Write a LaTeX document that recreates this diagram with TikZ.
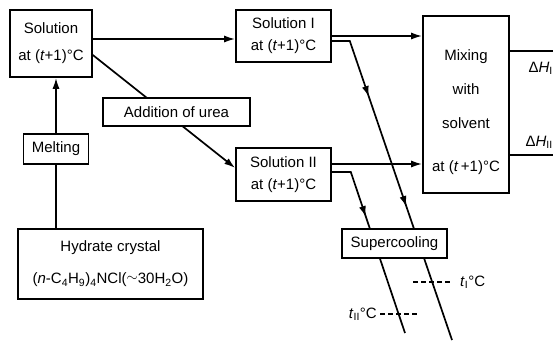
\documentclass[tikz,border=0pt]{standalone}
\usepackage{fontspec}
\setmainfont{Liberation Sans}
\usetikzlibrary{positioning, arrows.meta, decorations.markings}
\newcommand{\attemp}{at (\textit{t}+1)°C}

\begin{document}
\begin{tikzpicture}[
    x=1pt, y=-1pt,
    box/.style={
      draw, line width=1.6pt, fill=white, align=center,
      inner sep=0pt, font=\fontsize{15}{22}\selectfont
    },
    flow/.style={line width=1.7pt, -{Latex[length=11pt,width=7pt]}},
    path/.style={line width=1.7pt},
    tip/.style={
      postaction={decorate},
      decoration={markings, mark=at position #1 with {\arrow{Latex[length=11pt,width=7pt]}}}
    },
    level/.style={line width=1.2pt, dash pattern=on 5pt off 3pt},
    tag/.style={font=\fontsize{15}{16}\selectfont, inner sep=0pt},
  ]
    \useasboundingbox (0,0) rectangle (553,341);

    % boxes
    \node[box, minimum width=82pt, minimum height=67pt, font=\fontsize{15}{27}\selectfont] (sol) at (51,43.5) {Solution\\\attemp};
    \node[box, minimum width=95pt, minimum height=52pt] (solI) at (283.5,36) {Solution I\\\attemp};
    \node[box, minimum width=95pt, minimum height=53pt] (solII) at (283.5,174.5) {Solution II\\\attemp};
    \node[box, minimum width=185pt, minimum height=70pt, font=\fontsize{15}{32}\selectfont] (hyd) at (110.5,264) {%
      Hydrate crystal\\(\textit{n}-C\textsubscript{4}H\textsubscript{9})\textsubscript{4}NCl(\raisebox{0.3ex}{$\sim$}30H\textsubscript{2}O)
    };
    \node[box, minimum width=86pt, minimum height=177pt] (mix) at (466,104.5) {};
    \node[box, draw=none, fill=none, font=\fontsize{15}{34}\selectfont, yshift=-8pt] (mixtext) at (mix) {%
      Mixing\\with\\solvent\\[9pt]at (\textit{t}\,+1)°C
    };

    % connectors
    \draw[flow] (hyd.north -| 56,0) -- (sol.south -| 56,0);
    \draw[flow] ([yshift=4.5pt]sol.east) -- ([yshift=4.5pt]sol.east -| solI.west);
    \draw[flow] ([yshift=-11.5pt]sol.east) -- ([yshift=6.5pt]solII.west);
    \draw[flow] (solI.east) -- (solI.east -| mix.west);
    \draw[flow] ([yshift=10.5pt]solII.east) -- ([yshift=10.5pt]solII.east -| mix.west);

    \coordinate (endI) at (452,340);
    \coordinate (endII) at (405,333);
    \draw[path, tip=0.231, decoration={markings, mark=at position 0.579 with {\arrow{Latex[length=11pt,width=7pt]}}}]
      ([yshift=-5pt]solI.east) -- ++(18,0) -- (endI);
    \draw[path, tip=0.352] ([yshift=2.5pt]solII.east) -- ++(19,0) -- (endII);

    \draw[path] ([yshift=-36pt]mix.north east) -- ++(44,0);
    \draw[path] ([yshift=39pt]mix.south east) -- ++(44,0);

    % boxes lying over the lines
    \node[box, minimum width=65pt, minimum height=30pt] (melt) at (56,149) {Melting};
    \node[box, minimum width=147pt, minimum height=28pt] (urea) at (176.5,112) {Addition of urea};
    \node[box, minimum width=105pt, minimum height=29pt] (sup) at (394.5,243.5) {Supercooling};

    % temperatures and heats
    \node[tag, anchor=west] (tI) at (460,282) {\textit{t}\textsubscript{I}°C};
    \draw[level] ([xshift=-47pt]tI.west) -- ([xshift=-10pt]tI.west);
    \node[tag, anchor=east] (tII) at (377,314) {\textit{t}\textsubscript{II}°C};
    \draw[level] ([xshift=3pt]tII.east) -- ([xshift=40pt]tII.east);
    \node[tag, anchor=east] (dHI) at (553,68) {Δ\textit{H}\textsubscript{I}};
    \node[tag, anchor=east] (dHII) at (553,142) {Δ\textit{H}\textsubscript{II}};
\end{tikzpicture}
\end{document}
